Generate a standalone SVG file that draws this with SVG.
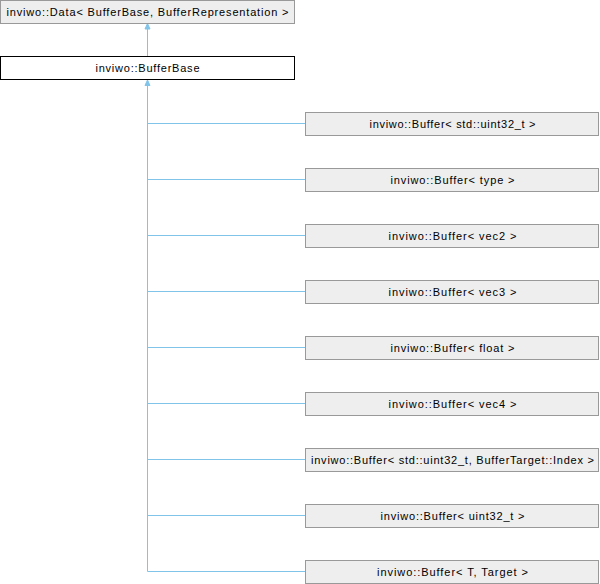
<svg xmlns="http://www.w3.org/2000/svg" width="600" height="584" viewBox="0 0 600 584">
  <style>
    .box { fill: #eeeeee; stroke: #999999; stroke-width: 1; }
    .cur { fill: #ffffff; stroke: #000000; stroke-width: 1; }
    .lbl { font-family: "Liberation Sans", Arial, sans-serif; font-size: 11px; fill: #000000; text-anchor: middle; }
    .edge { stroke: #80c4ea; stroke-width: 1; fill: none; }
    .head { fill: #80c4ea; stroke: #80c4ea; stroke-width: 1; }
  </style>
  <rect width="600" height="584" fill="#ffffff"/>

  <g id="connectors">
    <!-- BufferBase inherits from Data -->
    <line class="edge" x1="147.5" y1="56" x2="147.5" y2="28"/>
    <polygon class="head" points="147.5,23.5 150,29 145,29"/>
    <!-- Buffer specialisations inherit from BufferBase -->
    <line class="edge" x1="147.5" y1="85" x2="147.5" y2="571.5"/>
    <polygon class="head" points="147.5,80 150,85.5 145,85.5"/>
    <line class="edge" x1="147.5" y1="123.5" x2="305.5" y2="123.5"/>
    <line class="edge" x1="147.5" y1="179.5" x2="305.5" y2="179.5"/>
    <line class="edge" x1="147.5" y1="235.5" x2="305.5" y2="235.5"/>
    <line class="edge" x1="147.5" y1="291.5" x2="305.5" y2="291.5"/>
    <line class="edge" x1="147.5" y1="347.5" x2="305.5" y2="347.5"/>
    <line class="edge" x1="147.5" y1="403.5" x2="305.5" y2="403.5"/>
    <line class="edge" x1="147.5" y1="459.5" x2="305.5" y2="459.5"/>
    <line class="edge" x1="147.5" y1="515.5" x2="305.5" y2="515.5"/>
    <line class="edge" x1="147.5" y1="571.5" x2="305.5" y2="571.5"/>
  </g>

  <g id="data">
    <rect class="box" x="0.5" y="0.5" width="294" height="23"/>
    <text class="lbl" x="147.5" y="15.5" textLength="282" lengthAdjust="spacing">inviwo::Data&lt; BufferBase, BufferRepresentation &gt;</text>
  </g>
  <g id="bufferbase">
    <rect class="cur" x="0.5" y="56.5" width="294" height="23"/>
    <text class="lbl" x="147.5" y="71.5" textLength="104" lengthAdjust="spacing">inviwo::BufferBase</text>
  </g>

  <g id="buffer-uint32">
    <rect class="box" x="305.5" y="112.5" width="293" height="23"/>
    <text class="lbl" x="452.5" y="127.5" textLength="166" lengthAdjust="spacing">inviwo::Buffer&lt; std::uint32_t &gt;</text>
  </g>
  <g id="buffer-type">
    <rect class="box" x="305.5" y="168.5" width="293" height="23"/>
    <text class="lbl" x="452.5" y="183.5" textLength="124" lengthAdjust="spacing">inviwo::Buffer&lt; type &gt;</text>
  </g>
  <g id="buffer-vec2">
    <rect class="box" x="305.5" y="224.5" width="293" height="23"/>
    <text class="lbl" x="452.5" y="239.5" textLength="128" lengthAdjust="spacing">inviwo::Buffer&lt; vec2 &gt;</text>
  </g>
  <g id="buffer-vec3">
    <rect class="box" x="305.5" y="280.5" width="293" height="23"/>
    <text class="lbl" x="452.5" y="295.5" textLength="128" lengthAdjust="spacing">inviwo::Buffer&lt; vec3 &gt;</text>
  </g>
  <g id="buffer-float">
    <rect class="box" x="305.5" y="336.5" width="293" height="23"/>
    <text class="lbl" x="452.5" y="351.5" textLength="124" lengthAdjust="spacing">inviwo::Buffer&lt; float &gt;</text>
  </g>
  <g id="buffer-vec4">
    <rect class="box" x="305.5" y="392.5" width="293" height="23"/>
    <text class="lbl" x="452.5" y="407.5" textLength="128" lengthAdjust="spacing">inviwo::Buffer&lt; vec4 &gt;</text>
  </g>
  <g id="buffer-index">
    <rect class="box" x="305.5" y="448.5" width="293" height="23"/>
    <text class="lbl" x="452.5" y="463.5" textLength="283" lengthAdjust="spacing">inviwo::Buffer&lt; std::uint32_t, BufferTarget::Index &gt;</text>
  </g>
  <g id="buffer-uint32-t">
    <rect class="box" x="305.5" y="504.5" width="293" height="23"/>
    <text class="lbl" x="452.5" y="519.5" textLength="144" lengthAdjust="spacing">inviwo::Buffer&lt; uint32_t &gt;</text>
  </g>
  <g id="buffer-t-target">
    <rect class="box" x="305.5" y="560.5" width="293" height="23"/>
    <text class="lbl" x="452.5" y="575.5" textLength="151" lengthAdjust="spacing">inviwo::Buffer&lt; T, Target &gt;</text>
  </g>
</svg>
